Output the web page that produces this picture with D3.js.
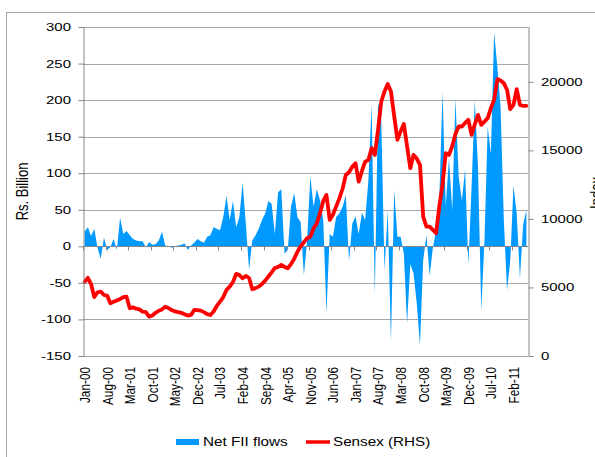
<!DOCTYPE html>
<html><head><meta charset="utf-8">
<script src="https://cdn.jsdelivr.net/npm/d3@7"></script>
<style>
body{margin:0;background:#fff}
svg{display:block}
text{font-family:"Liberation Sans",Arial,sans-serif;fill:#000}
</style>
</head><body>
<svg id="c" width="595" height="457"></svg>
<script>
// ---------- DATA ----------
const monthNames = ["Jan","Feb","Mar","Apr","May","Jun","Jul","Aug","Sep","Oct","Nov","Dec"];
const years = ["00","01","02","03","04","05","06","07","08","09","10","11"];
const categories = [];
years.forEach(y => monthNames.forEach(m => { if (categories.length < 138) categories.push(m + "-" + y); }));

const tickLabels = ["Jan-00","Aug-00","Mar-01","Oct-01","May-02","Dec-02","Jul-03","Feb-04","Sep-04","Apr-05",
  "Nov-05","Jun-06","Jan-07","Aug-07","Mar-08","Oct-08","May-09","Dec-09","Jul-10","Feb-11"];

// Net FII flows, Rs. Billion
const fiiFlows = [
  20,26,14,24,-2,-17,12,-5,-1,10,-5,39,
  17,21,15,10,8,7,7,-2,6,2,3,8,
  20,1,0,-2,0,1,2,4,-5,1,5,10,
  7,5,13,15,26,24,22,40,69,36,62,26,
  40,87,31,-32,8,15,24,36,45,62,58,17,
  74,78,-10,-5,54,73,40,33,-40,8,96,54,
  78,63,36,-91,17,13,40,45,54,70,-20,31,
  41,17,46,36,90,194,-67,197,172,-33,49,-131,
  77,13,13,-10,-106,-24,-37,-78,-135,-19,15,-40,
  -2,22,65,211,56,120,49,202,95,63,105,-26,
  81,200,108,-88,8,163,127,293,245,190,36,-60,
  -19,83,45,-44,30,49
];

// Sensex index (RHS)
const sensex = [
  5420,5700,5250,4300,4650,4700,4450,4400,3850,3950,4050,4150,
  4300,4330,3480,3550,3450,3400,3230,3200,2870,2950,3150,3300,
  3400,3600,3500,3350,3250,3200,3150,3050,2950,3000,3360,3350,
  3310,3200,3050,2990,3250,3650,3960,4300,4820,5060,5400,5990,
  5900,5670,5840,5690,4870,4950,5060,5250,5500,5800,6100,6420,
  6500,6640,6500,6400,6700,7100,7600,8000,8300,8590,8700,9300,
  9690,10400,11300,11750,9930,10300,10900,11500,12200,13200,13400,13800,
  14060,12720,13500,14180,14300,15160,14670,16500,18560,19300,19850,19290,
  17500,15770,16400,16930,15300,13700,14670,14400,13940,10170,9440,9440,
  9200,8950,10900,12500,14800,14670,15300,16200,16740,16740,17000,17230,
  16130,16900,17590,16860,17100,17350,18080,18700,20200,20100,19900,19420,
  18010,18320,19470,18320,18250,18250
];

const leftTicks = [-150,-100,-50,0,50,100,150,200,250,300];
const rightTicks = [0,5000,10000,15000,20000];
const legendLabels = ["Net FII flows","Sensex (RHS)"];

// ---------- LAYOUT ----------
const L = 83, R = 528, T = 27, B = 356;
const SX = 1.3; // horizontal stretch of text in reference
const svg = d3.select("#c");

const x = d3.scaleBand().domain(categories).range([L, R]).paddingInner(0).paddingOuter(0);
const xc = d => x(d) + x.bandwidth() / 2;
const yL = d3.scaleLinear().domain([-150, 300]).range([B, T]);
const yR = d3.scaleLinear().domain([0, 24000]).range([B, T]);

function txt(parent, px, py, s, o) {
  return parent.append("text")
    .attr("transform", `translate(${px},${py}) scale(${o.sx || SX},1)` + (o.rot ? ` rotate(${o.rot})` : ""))
    .attr("text-anchor", o.anchor || "start")
    .attr("dy", o.dy || "0.35em")
    .style("font-size", o.size + "px")
    .text(s);
}

// outer border
svg.append("rect").attr("x", 6.5).attr("y", 12.5).attr("width", 620).attr("height", 470)
  .attr("fill", "none").attr("stroke", "#a6a6a6").attr("stroke-width", 1);

// gridlines
svg.append("g").selectAll("line").data(leftTicks).join("line")
  .attr("x1", L).attr("x2", R)
  .attr("y1", d => Math.round(yL(d)) + 0.5).attr("y2", d => Math.round(yL(d)) + 0.5)
  .attr("stroke", "#a6a6a6").attr("stroke-width", 1);

// area
const area = d3.area().x((d, i) => xc(categories[i])).y0(yL(0)).y1(d => yL(d));
svg.append("path").datum(fiiFlows).attr("d", area).attr("fill", "#0099FF");

// zero axis line + ticks
const y0 = Math.round(yL(0)) + 0.5;
svg.append("line").attr("x1", L).attr("x2", R).attr("y1", y0).attr("y2", y0)
  .attr("stroke", "#868686").attr("stroke-width", 1);
const tickCats = categories.filter((c, i) => i % 7 === 0);
svg.append("g").selectAll("line").data(tickCats).join("line")
  .attr("x1", d => Math.round(x(d)) + 0.5).attr("x2", d => Math.round(x(d)) + 0.5)
  .attr("y1", y0).attr("y2", y0 + 4)
  .attr("stroke", "#868686").attr("stroke-width", 1);

// sensex line
const line = d3.line().x((d, i) => xc(categories[i])).y(d => yR(d)).curve(d3.curveLinear);
svg.append("path").datum(sensex).attr("d", line).attr("fill", "none")
  .attr("stroke", "#FF0000").attr("stroke-width", 3.8)
  .attr("stroke-linejoin", "round").attr("stroke-linecap", "round");

// left axis
const axL = svg.append("g").attr("transform", `translate(${L + 0.5},0)`)
  .call(d3.axisLeft(yL).tickValues(leftTicks).tickSize(5).tickSizeOuter(0).tickFormat(d3.format("d")));
axL.selectAll("path,line").attr("stroke", "#868686");
axL.selectAll("text").remove();
leftTicks.forEach(v => txt(svg, 71, yL(v), String(v), {size: 11.5, anchor: "end"}));

// right axis
const axR = svg.append("g").attr("transform", `translate(${R + 0.5},0)`)
  .call(d3.axisRight(yR).tickValues(rightTicks).tickSize(5).tickSizeOuter(0));
axR.select("path").attr("d", `M0.5,${yR(0)}V${yR(24000)}`);
axR.selectAll("path,line").attr("stroke", "#868686");
axR.selectAll("text").remove();
rightTicks.forEach(v => txt(svg, 541, yR(v), String(v), {size: 11.5, anchor: "start"}));

// x labels
tickLabels.forEach(lbl => {
  txt(svg, xc(lbl), 367, lbl, {size: 11.8, anchor: "end", rot: -90});
});

// axis titles
txt(svg, 23, 191.5, "Rs. Billion", {size: 13, sx: 1.2, anchor: "middle", rot: -90});
txt(svg, 597, 193, "Index", {size: 13, sx: 1.2, anchor: "middle", rot: -90});

// legend
const ly = 442;
svg.append("rect").attr("x", 176).attr("y", ly - 3).attr("width", 23).attr("height", 6).attr("fill", "#0099FF");
txt(svg, 203, ly, legendLabels[0], {size: 12, sx: 1.27});
svg.append("line").attr("x1", 306).attr("x2", 330).attr("y1", ly).attr("y2", ly)
  .attr("stroke", "#FF0000").attr("stroke-width", 3.5);
txt(svg, 333, ly, legendLabels[1], {size: 12, sx: 1.27});
</script>
</body></html>
